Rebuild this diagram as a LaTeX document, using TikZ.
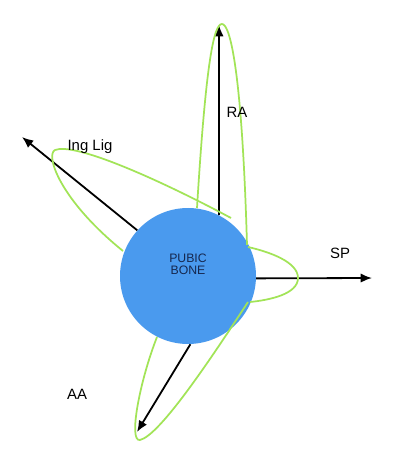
\documentclass[tikz,border=0pt]{standalone}
\usepackage{fontspec}
\setmainfont{Liberation Sans}
\usetikzlibrary{arrows.meta}
\definecolor{boneblue}{HTML}{4A9AEE}
\definecolor{petal}{HTML}{A2E457}
\definecolor{bonetext}{HTML}{16284F}
\begin{document}
\begin{tikzpicture}[x=0.75pt,y=-0.75pt,
  lbl/.style={font=\fontsize{11.2}{13}\selectfont, inner sep=0pt},
  muscle/.style={draw=black, line width=1.35pt, -{Latex[length=8.5pt,width=7pt]}},
  loop/.style={draw=petal, line width=1.3pt}]
\useasboundingbox[fill=white] (0,0) rectangle (400,466);
\node[circle, fill=boneblue, minimum size=102pt, inner sep=0pt] (bone) at (188,276) {};
\node[font=\fontsize{9.2}{10}\selectfont, text=bonetext, align=center, inner sep=0pt] (bonelabel) at (188,264) {PUBIC\\[-1pt]BONE};
% arrow ends
\coordinate (raend) at (219,25);
\coordinate (ingend) at (22,137);
\coordinate (spend) at (372,278);
\coordinate (aaend) at (137,432);
\draw[muscle] (bone.63) -- (raend);
\draw[muscle] (bone.138.5) -- (ingend);
\draw[muscle] (bone.358) -- (spend);
\draw[muscle] (bone.-88) -- (aaend);
% petals
\draw[loop] (197,208) .. controls (206,60) and (214,24) .. (222,24)
  .. controls (230,24) and (242,70) .. (247,245);
\draw[loop] (231,218) .. controls (160,180) and (75,142) .. (55,150)
  .. controls (45,155) and (60,200) .. (123,251);
\draw[loop] (248,247) .. controls (270,252) and (298,262) .. (298,278)
  .. controls (298,294) and (270,300) .. (250,302);
\draw[loop] (248,302) .. controls (210,360) and (160,435) .. (140,440)
  .. controls (128,442) and (140,380) .. (157,337);
% labels
\node[lbl] (ra) at (237,112) {RA};
\node[lbl] (ing) at (90,147) {Ing Lig};
\node[lbl] (sp) at (340,253) {SP};
\node[lbl] (aa) at (77,394) {AA};
\end{tikzpicture}
\end{document}
